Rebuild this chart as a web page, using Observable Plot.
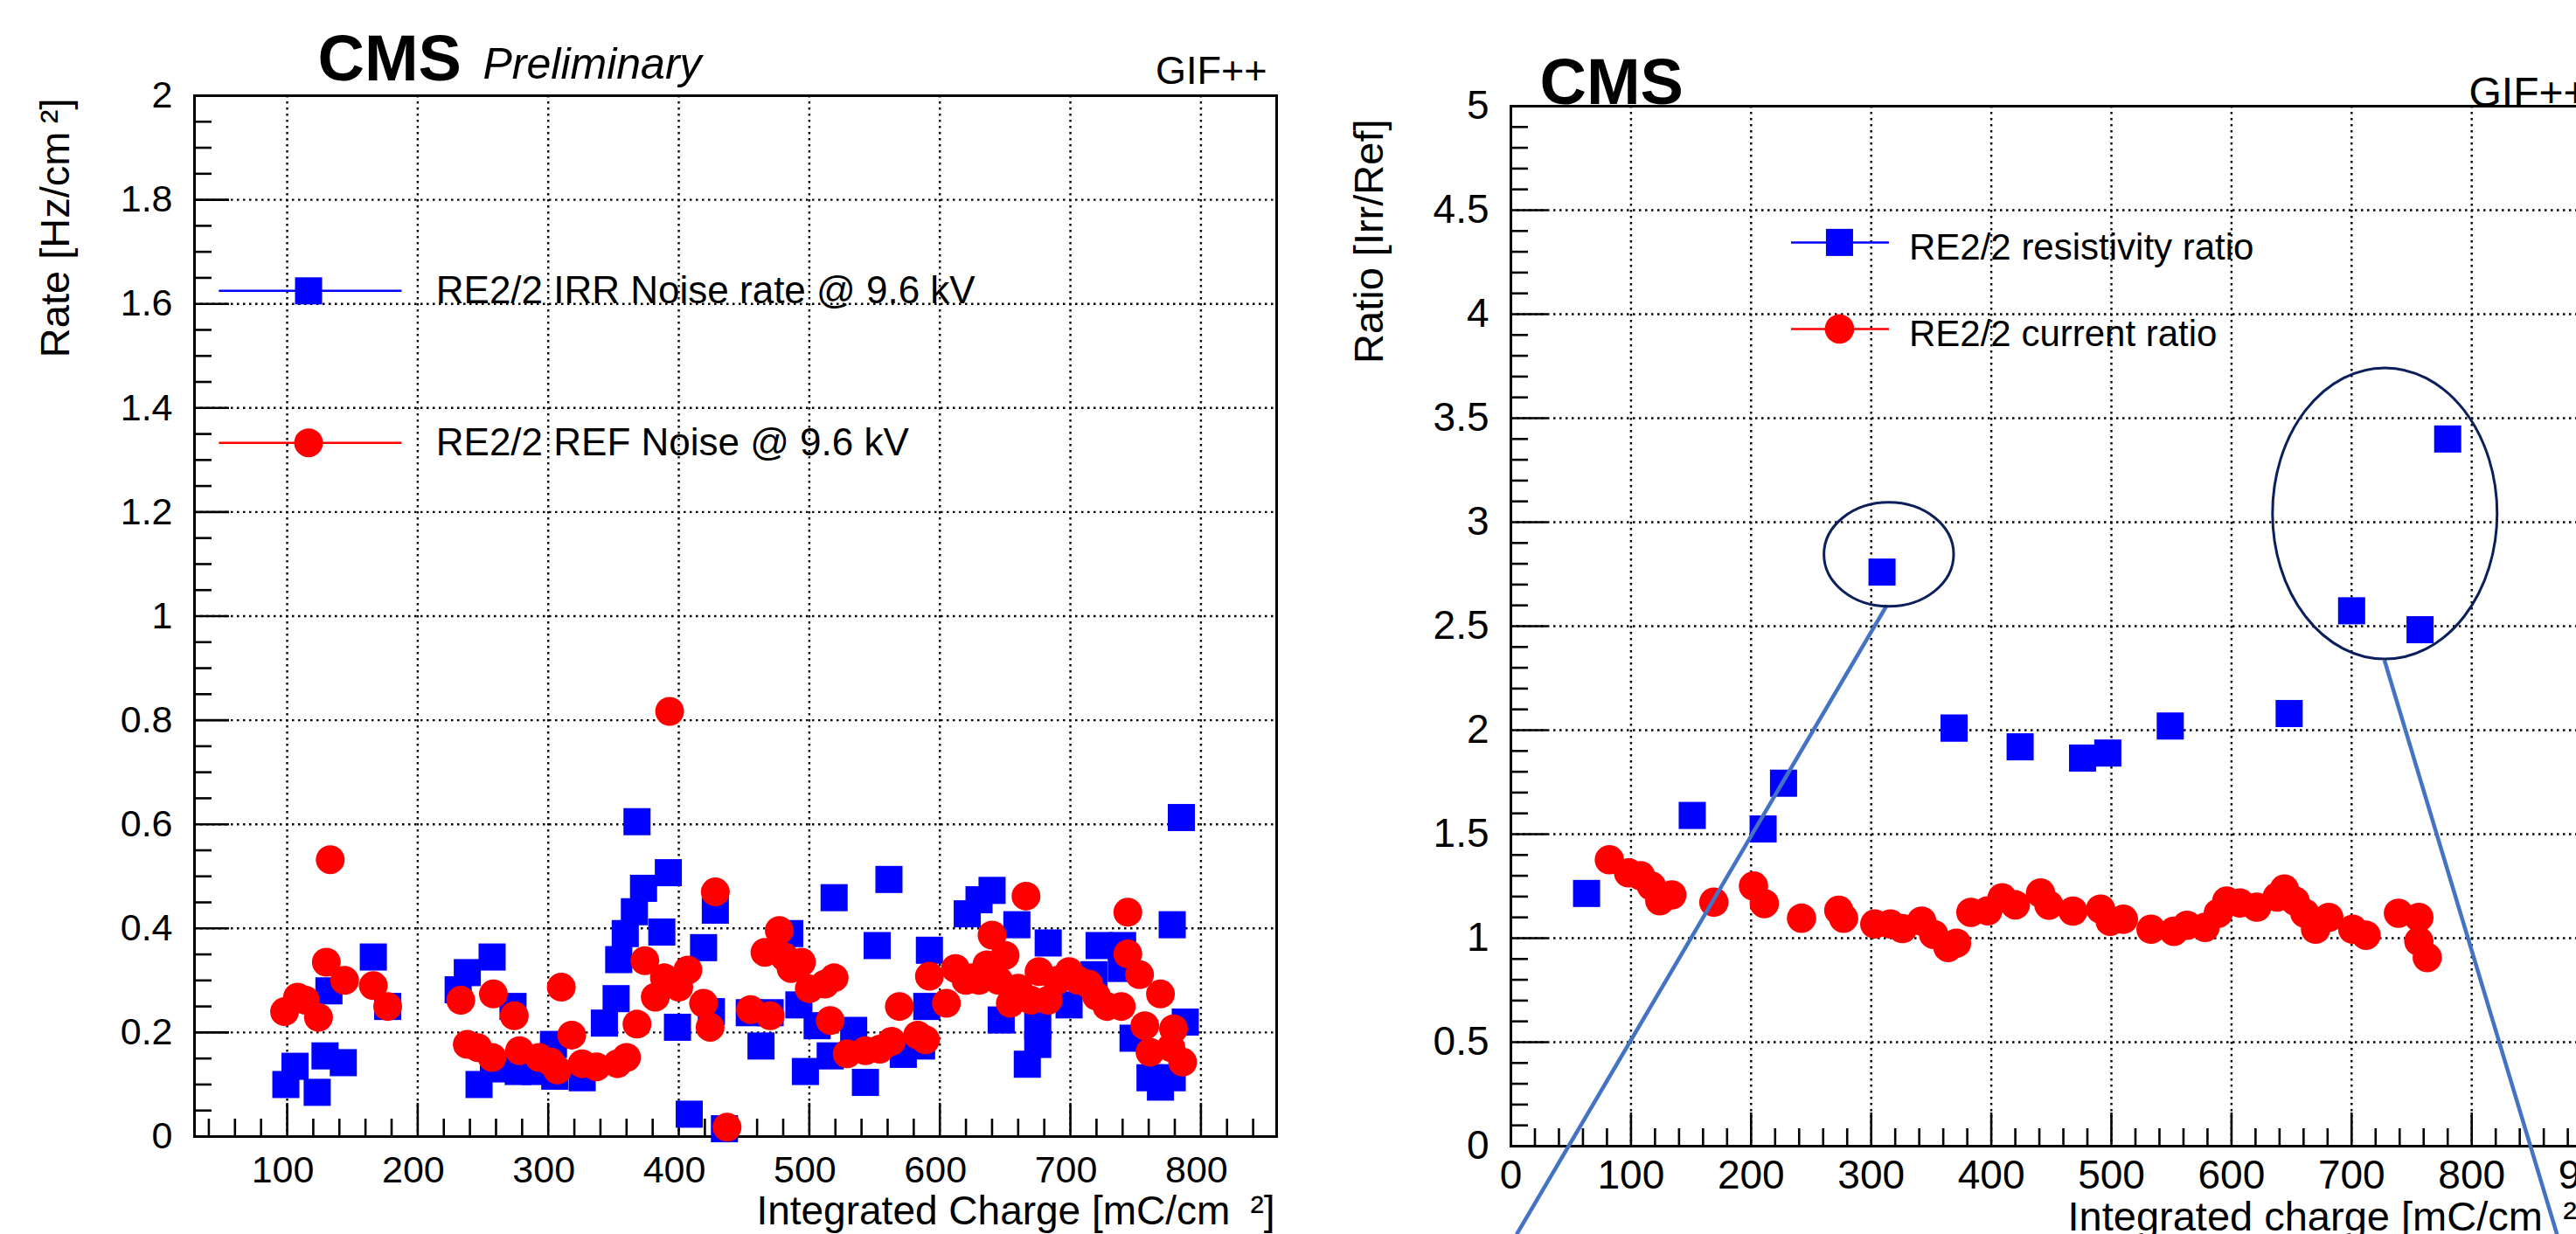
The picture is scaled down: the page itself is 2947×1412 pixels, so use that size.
<!DOCTYPE html>
<html>
<head>
<meta charset="utf-8">
<script src="https://cdn.jsdelivr.net/npm/d3@7"></script>
<script src="https://cdn.jsdelivr.net/npm/@observablehq/plot@0.6"></script>
<style>
  html, body { margin: 0; padding: 0; background: #fff; overflow: hidden; }
  #page { position: relative; width: 2947px; height: 1412px; overflow: hidden; background: #fff; }
  #left, #right { position: absolute; top: 0; height: 1412px; }
  #left { left: 0; width: 1500px; }
  #right { left: 1500px; width: 1505px; }
</style>
</head>
<body>
<div id="page"><div id="left"></div><div id="right"></div></div>
<script>
// ---------------- DATA: left panel (noise rate vs integrated charge) ----------------
const irrCharge = [99,106,123,129,132,143,166,177,
  231,238,247,257,258,273,277,290,304,305,326,343,352,354,359,366,368,373,387,392,399,408,419,425,428,435,
  454,463,470,485,492,497,506,516,519,534,543,552,561,572,586,590,592,
  621,630,640,647,659,667,675,675,683,699,718,722,739,740,748,761,769,778,778,785,788];
const irrRate = [0.100,0.135,0.085,0.155,0.280,0.142,0.345,0.250,
  0.282,0.315,0.100,0.345,0.130,0.250,0.125,0.125,0.177,0.116,0.113,0.218,0.265,0.340,0.390,0.432,0.605,0.477,0.393,0.507,0.210,0.043,0.363,0.240,0.435,0.015,
  0.238,0.174,0.238,0.390,0.253,0.125,0.213,0.155,0.459,0.204,0.104,0.367,0.494,0.158,0.174,0.250,0.358,
  0.428,0.455,0.473,0.224,0.407,0.139,0.213,0.177,0.372,0.253,0.311,0.367,0.323,0.367,0.189,0.113,0.095,0.113,0.407,0.613,0.220];

const refCharge = [98,108,114,124,130,133,144,166,177,
  233,238,246,257,258,274,278,293,302,307,310,318,326,337,353,360,368,374,382,389,393,400,407,419,424,428,437,
  455,466,470,477,481,486,494,500,512,516,519,529,543,554,563,569,583,589,592,605,612,
  620,625,630,636,640,645,650,654,660,666,670,676,683,690,699,706,714,720,728,739,744,744,753,757,761,769,777,779,786];
const refRate = [0.240,0.268,0.262,0.229,0.335,0.532,0.300,0.290,0.250,
  0.262,0.177,0.171,0.152,0.274,0.232,0.165,0.152,0.143,0.128,0.287,0.195,0.140,0.134,0.140,0.152,0.216,0.338,0.268,0.305,0.817,0.287,0.320,0.256,0.210,0.470,0.018,
  0.244,0.354,0.232,0.396,0.345,0.323,0.335,0.284,0.293,0.223,0.305,0.159,0.165,0.168,0.183,0.250,0.195,0.186,0.308,0.256,0.323,
  0.300,0.305,0.300,0.330,0.387,0.300,0.348,0.256,0.285,0.462,0.262,0.317,0.262,0.300,0.317,0.300,0.293,0.270,0.250,0.250,0.351,0.431,0.311,0.213,0.162,0.274,0.171,0.207,0.143];

// ---------------- DATA: right panel (ratios vs integrated charge) ----------------
const resCharge = [63,151,210,227,309,369,424,476,497,549,648,700,757,780];
const resRatio  = [1.215,1.590,1.525,1.745,2.760,2.010,1.920,1.866,1.890,2.020,2.080,2.574,2.483,3.400];

const curCharge = [82,98,108,117,124,134,169,202,211,242,273,277,303,316,326,342,352,364,371,383,397,409,420,
  441,448,468,491,499,510,533,552,563,578,589,596,607,621,638,644,653,661,670,681,701,712,739,756,756,763];
const curRatio = [1.377,1.314,1.300,1.251,1.180,1.208,1.173,1.251,1.166,1.096,1.134,1.096,1.068,1.068,1.046,1.082,1.018,0.955,0.976,1.124,1.131,1.194,1.160,
  1.217,1.159,1.130,1.140,1.081,1.091,1.043,1.033,1.062,1.052,1.120,1.178,1.169,1.149,1.198,1.236,1.178,1.120,1.043,1.100,1.043,1.014,1.120,1.100,0.985,0.907];

// ---------------- ticks & labels ----------------
const leftXTicks = [100,200,300,400,500,600,700,800];
const leftYTicks = [0,0.2,0.4,0.6,0.8,1,1.2,1.4,1.6,1.8,2];
const rightXTicks = [0,100,200,300,400,500,600,700,800,900];
const rightYTicks = [0,0.5,1,1.5,2,2.5,3,3.5,4,4.5,5];
const leftXMinor = d3.range(40, 860, 20).filter(v => v % 100 !== 0);
const leftYMinor = d3.range(1, 40).filter(i => i % 4 !== 0).map(i => i / 20);
const rightXMinor = d3.range(20, 900, 20).filter(v => v % 100 !== 0);
const rightYMinor = d3.range(1, 50).filter(i => i % 5 !== 0).map(i => i / 10);

const leftSeries = ["RE2/2 IRR Noise rate @ 9.6 kV", "RE2/2 REF Noise @ 9.6 kV"];
const rightSeries = ["RE2/2 resistivity ratio", "RE2/2 current ratio"];

// annotation shapes (data units of right panel)
const highlightEllipses = [{cx: 315, cy: 2.843, rx: 54, ry: 0.25}, {cx: 728, cy: 3.04, rx: 93.5, ry: 0.70}];
const calloutLines = [{x1: 313, y1: 2.60, x2: 4.8, y2: -0.424}, {x1: 727.3, y1: 2.337, x2: 871, y2: -0.424}];

// ---------------- layout / style ----------------
const FONT = "'Liberation Sans', Arial, Helvetica, sans-serif";
const BLUE = "#0000ff", RED = "#ff0000";
const grid = {stroke: "#000", strokeOpacity: 1, strokeWidth: 2.4, strokeDasharray: "2.5,4.5"};
const tk = {stroke: "#000", strokeWidth: 2.6};

const irr = irrCharge.map((x, i) => ({x, y: irrRate[i]}));
const ref = refCharge.map((x, i) => ({x, y: refRate[i]}));
const res = resCharge.map((x, i) => ({x, y: resRatio[i]}));
const cur = curCharge.map((x, i) => ({x, y: curRatio[i]}));

// ---- LEFT ----
const L = {w: 1500, h: 1412, ml: 222, mr: 40, mt: 109, mb: 112};
const lfw = L.w - L.ml - L.mr, lfh = L.h - L.mt - L.mb;
const lLeg = {x1: 48, x2: 188, xm: 116.4, xt: 214, y: [1.625, 1.333]};

const leftPlot = Plot.plot({
  width: L.w, height: L.h, marginLeft: L.ml, marginRight: L.mr, marginTop: L.mt, marginBottom: L.mb,
  x: {domain: [29, 858], axis: null},
  y: {domain: [0, 2], axis: null},
  style: {fontFamily: FONT, background: "white", overflow: "visible", color: "#000"},
  marks: [
    Plot.ruleX(leftXTicks, grid),
    Plot.ruleY(leftYTicks.filter(v => v > 0 && v < 2), grid),
    Plot.tickX(leftXMinor, {x: d => d, insetTop: lfh - 20, ...tk}),
    Plot.tickX(leftXTicks, {x: d => d, insetTop: lfh - 38, ...tk}),
    Plot.tickY(leftYMinor, {y: d => d, insetRight: lfw - 20, ...tk}),
    Plot.tickY(leftYTicks, {y: d => d, insetRight: lfw - 40, ...tk}),
    Plot.frame({stroke: "#000", strokeWidth: 3}),
    Plot.text(leftXTicks, {x: d => d, text: d => String(d), frameAnchor: "bottom", lineAnchor: "top", dy: 22, dx: -5, fontSize: 43}),
    Plot.text(leftYTicks, {y: d => d, text: d => String(d), frameAnchor: "left", textAnchor: "end", dx: -25, fontSize: 43}),
    Plot.dot(irr, {x: "x", y: "y", symbol: "square", r: 17.5, fill: BLUE}),
    Plot.dot(ref, {x: "x", y: "y", r: 16.5, fill: RED}),
    // legend
    Plot.ruleY([lLeg.y[0]], {x1: lLeg.x1, x2: lLeg.x2, stroke: BLUE, strokeWidth: 2.5}),
    Plot.dot([lLeg.y[0]], {x: lLeg.xm, y: d => d, symbol: "square", r: 17.5, fill: BLUE}),
    Plot.text([leftSeries[0]], {x: lLeg.xt, y: lLeg.y[0], text: d => d, textAnchor: "start", fontSize: 44}),
    Plot.ruleY([lLeg.y[1]], {x1: lLeg.x1, x2: lLeg.x2, stroke: RED, strokeWidth: 2.5}),
    Plot.dot([lLeg.y[1]], {x: lLeg.xm, y: d => d, r: 16.5, fill: RED}),
    Plot.text([leftSeries[1]], {x: lLeg.xt, y: lLeg.y[1], text: d => d, textAnchor: "start", fontSize: 44}),
    // titles
    Plot.text(["CMS"], {text: d => d, frameAnchor: "top-left", dx: 141, dy: -18, textAnchor: "start", lineAnchor: "bottom", fontSize: 74, fontWeight: "bold"}),
    Plot.text(["Preliminary"], {text: d => d, frameAnchor: "top-left", dx: 330, dy: -20, textAnchor: "start", lineAnchor: "bottom", fontSize: 50, fontStyle: "italic"}),
    Plot.text(["GIF++"], {text: d => d, frameAnchor: "top-right", dx: -11, dy: -14, textAnchor: "end", lineAnchor: "bottom", fontSize: 45}),
    Plot.text(["Rate [Hz/cm\u2009\u00b2]"], {text: d => d, frameAnchor: "top-left", dx: -144, dy: 3, rotate: -90, textAnchor: "end", lineAnchor: "bottom", fontSize: 47}),
    Plot.text(["Integrated Charge [mC/cm\u2002\u00b2]"], {text: d => d, frameAnchor: "bottom-right", dx: -2, dy: 100, textAnchor: "end", lineAnchor: "bottom", fontSize: 46})
  ]
});
document.getElementById("left").append(leftPlot);

// ---- RIGHT ----
const R = {w: 1505, h: 1412, ml: 228, mr: 40.4, mt: 121, mb: 101};
const rfw = R.w - R.ml - R.mr, rfh = R.h - R.mt - R.mb;
const rLeg = {x1: 233.6, x2: 315.1, xm: 273.6, xt: 331.5, y: [4.345, 3.929]};

const rightPlot = Plot.plot({
  width: R.w, height: R.h, marginLeft: R.ml, marginRight: R.mr, marginTop: R.mt, marginBottom: R.mb,
  x: {domain: [0, 900], axis: null},
  y: {domain: [0, 5], axis: null},
  style: {fontFamily: FONT, background: "white", overflow: "visible", color: "#000"},
  marks: [
    Plot.ruleX(rightXTicks.filter(v => v > 0 && v < 900), grid),
    Plot.ruleY(rightYTicks.filter(v => v > 0 && v < 5), grid),
    Plot.tickX(rightXMinor, {x: d => d, insetTop: rfh - 20, ...tk}),
    Plot.tickX(rightXTicks, {x: d => d, insetTop: rfh - 38, ...tk}),
    Plot.tickY(rightYMinor, {y: d => d, insetRight: rfw - 20, ...tk}),
    Plot.tickY(rightYTicks, {y: d => d, insetRight: rfw - 42, ...tk}),
    Plot.frame({stroke: "#000", strokeWidth: 3}),
    Plot.text(rightXTicks, {x: d => d, text: d => String(d), frameAnchor: "bottom", lineAnchor: "top", dy: 16, fontSize: 46}),
    Plot.text(rightYTicks, {y: d => d, text: d => String(d), frameAnchor: "left", textAnchor: "end", dx: -25, fontSize: 46}),
    Plot.dot(res, {x: "x", y: "y", symbol: "square", r: 17.5, fill: BLUE}),
    Plot.dot(cur, {x: "x", y: "y", r: 16.8, fill: RED}),
    // legend
    Plot.ruleY([rLeg.y[0]], {x1: rLeg.x1, x2: rLeg.x2, stroke: BLUE, strokeWidth: 2.5}),
    Plot.dot([rLeg.y[0]], {x: rLeg.xm, y: d => d, symbol: "square", r: 17.5, fill: BLUE}),
    Plot.text([rightSeries[0]], {x: rLeg.xt, y: rLeg.y[0], text: d => d, textAnchor: "start", dy: 6, fontSize: 42}),
    Plot.ruleY([rLeg.y[1]], {x1: rLeg.x1, x2: rLeg.x2, stroke: RED, strokeWidth: 2.5}),
    Plot.dot([rLeg.y[1]], {x: rLeg.xm, y: d => d, r: 16.8, fill: RED}),
    Plot.text([rightSeries[1]], {x: rLeg.xt, y: rLeg.y[1], text: d => d, textAnchor: "start", dy: 6, fontSize: 42}),
    // titles
    Plot.text(["CMS"], {text: d => d, frameAnchor: "top-left", dx: 33, dy: -3, textAnchor: "start", lineAnchor: "bottom", fontSize: 74, fontWeight: "bold"}),
    Plot.text(["GIF++"], {text: d => d, frameAnchor: "top-left", dx: 1096, dy: 0, textAnchor: "start", lineAnchor: "bottom", fontSize: 48}),
    Plot.text(["Ratio [Irr/Ref]"], {text: d => d, frameAnchor: "top-left", dx: -147, dy: 15, rotate: -90, textAnchor: "end", lineAnchor: "bottom", fontSize: 47}),
    Plot.text(["Integrated charge [mC/cm\u2002\u00b2]"], {text: d => d, frameAnchor: "bottom-left", dx: 637, dy: 96, textAnchor: "start", lineAnchor: "bottom", fontSize: 47}),
    // callout lines
    Plot.link(calloutLines, {x1: "x1", y1: "y1", x2: "x2", y2: "y2", stroke: "#4472c4", strokeWidth: 4.5})
  ]
});
document.getElementById("right").append(rightPlot);

// highlight ellipses, placed through the plot's own scales
const sx = rightPlot.scale("x"), sy = rightPlot.scale("y");
const rsvg = d3.select(rightPlot);
for (const e of highlightEllipses) {
  const cx = sx.apply(e.cx), cy = sy.apply(e.cy);
  rsvg.append("ellipse")
    .attr("cx", cx).attr("cy", cy)
    .attr("rx", Math.abs(sx.apply(e.cx + e.rx) - cx))
    .attr("ry", Math.abs(sy.apply(e.cy + e.ry) - cy))
    .attr("fill", "none").attr("stroke", "#0b1f5c").attr("stroke-width", 3);
}
</script>
</body>
</html>
